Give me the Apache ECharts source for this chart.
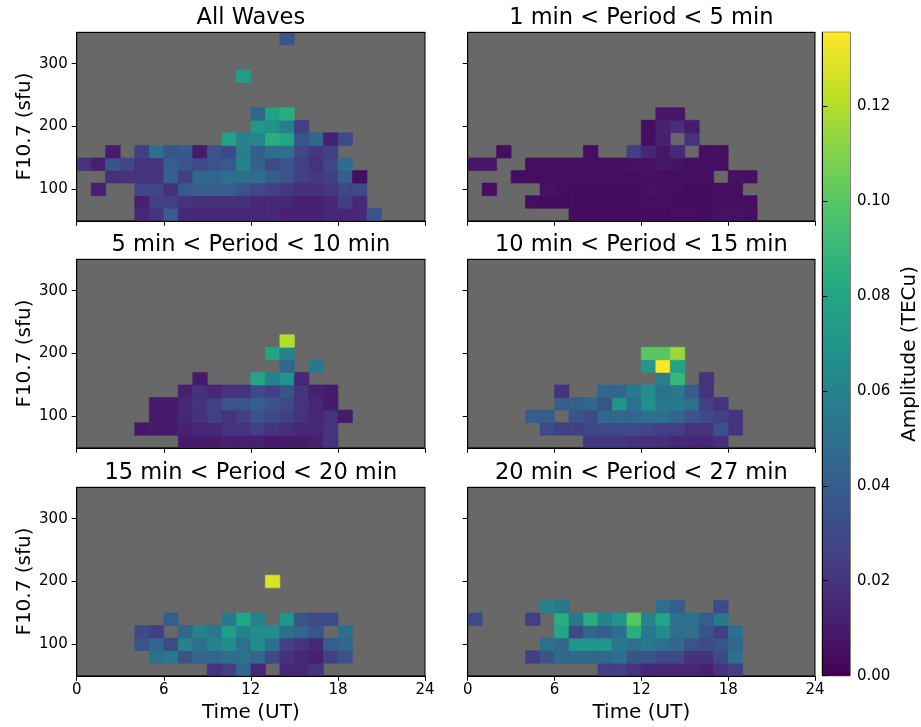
<!DOCTYPE html>
<html><head><meta charset="utf-8">
<script src="https://cdn.jsdelivr.net/npm/echarts@6/dist/echarts.min.js"></script>
<style>html,body{margin:0;padding:0;background:#fff}#c{width:921px;height:727px}</style>
</head><body><div id="c"></div><script>
// ---------- DATA ----------
// tick labels
const hourTicks = [0, 6, 12, 18, 24];
const f107Ticks = [100, 200, 300];
const ampTicks = [0, 0.02, 0.04, 0.06, 0.08, 0.10, 0.12];
const hourRange = [0, 24];
const f107Range = [50, 350];
const ampRange = [0, 0.1355];
const hourBinWidth = 1;   // UT hours
const f107BinWidth = 20;  // sfu

const panelTitles = ['All Waves', '1 min < Period < 5 min', '5 min < Period < 10 min',
  '10 min < Period < 15 min', '15 min < Period < 20 min', '20 min < Period < 27 min'];

// each row: [F10.7 bin centre (sfu), first UT hour bin, amplitude values (TECu) ...]
const allWaves = [
  [60, 4, .015,.02,.04,.015,.015,.015,.015,.015,.015,.015,.012,.012,.012,.015,.015,.015,.035],
  [80, 4, .012,.025,.025,.02,.018,.018,.018,.018,.015,.015,.015,.012,.012,.015,.025,.015],
  [100, 1, .012],
  [100, 4, .028,.028,.018,.038,.04,.04,.04,.035,.03,.025,.022,.018,.018,.022,.028,.03],
  [120, 2, .018,.02,.02,.02,.042,.025,.045,.045,.05,.05,.048,.04,.035,.025,.022,.025,.04,.005],
  [140, 0, .02,.012,.035,.028,.02,.02,.04,.035,.03,.035,.038,.06,.042,.03,.035,.025,.02,.028,.048],
  [160, 2, .01],
  [160, 4, .025,.05,.035,.038,.01,.035,.03,.058,.04,.048,.05,.028,.022,.025],
  [180, 10, .078,.06,.062,.085,.08,.035,.045,.012,.03],
  [200, 12, .072,.068,.058,.025],
  [220, 12, .045,.078,.085],
  [280, 11, .075],
  [340, 14, .035]
];
const period1to5 = [
  [60, 7, .004,.004,.004,.004,.004,.004,.004,.005,.005,.004,.006,.006,.005],
  [80, 4, .005,.004,.004,.004,.004,.004,.004,.004,.005,.005,.004,.004,.004,.005,.005,.005],
  [100, 1, .005],
  [100, 5, .006,.005,.004,.004,.004,.004,.004,.006,.005,.005,.004,.004,.005,.005],
  [120, 3, .005,.005,.005,.005,.005,.005,.005,.005,.005,.006,.005,.005,.005,.005,null,.006,.006],
  [140, 0, .008,.008],
  [140, 4, .005,.005,.005,.005,.005,.005,.005,.006,.006,.008,.007,.005,.005,.005],
  [160, 2, .005],
  [160, 8, .005],
  [160, 11, .025,.015,.008,.015,null,.005,.005],
  [180, 12, .005,.012,null,.02],
  [200, 12, .005,.012,.018,.01],
  [220, 13, .008,.008]
];
const period5to10 = [
  [60, 7, .01,.01,.01,.012,.012,.012,.01,.01,.01,.012,.02],
  [80, 4, .008,.01,.01,.012,.015,.015,.02,.02,.025,.02,.018,.015,.015,.02],
  [100, 5, .01,.01,.015,.02,.025,.02,.025,.035,.03,.025,.02,.015,.02,.01],
  [120, 5, .01,.01,.015,.02,.025,.035,.035,.04,.035,.03,.02,.015,.01],
  [140, 7, .012,.02,.015,.02,.02,.03,.025,.035,.02,.012,.01],
  [160, 8, .01],
  [160, 12, .08,.06,.07,.015],
  [180, 14, .045,null,.055],
  [200, 13, .08,.06],
  [220, 14, .12]
];
const period10to15 = [
  [60, 8, .022,.022,.022,.02,.018,.018,.015,.015,.015,.018],
  [80, 5, .03,.025,.025,.028,.03,.03,.03,.028,.025,.025,.02,.02,.035,.02],
  [100, 4, .04,.04,null,.035,.03,.045,.045,.045,.05,.05,.045,.035,.03,.025,.02],
  [120, 6, .04,.04,.045,.035,.07,.05,.068,.055,.055,.05,.025,.02],
  [140, 6, .02],
  [140, 9, .045,.045,.055,.065,.05,.055,.04,.02],
  [160, 13, .058,.09,null,.02],
  [180, 12, .072,.135,.078],
  [200, 12, .1,.1,.115]
];
const period15to20 = [
  [60, 9, .02,.025,.045,.015,null,.015,.015,.02],
  [80, 5, .05,.055,.035,.045,.045,.05,.05,.045,.03,.02,.015,.012,.025,.035],
  [100, 4, .035,.045,.03,.06,.05,.06,.065,.05,.065,.05,.025,.02,.015,.04,.045],
  [120, 4, .03,.025,null,.045,.06,.055,.075,.06,.065,.065,.05,.045,.035,null,.05],
  [140, 6, .04],
  [140, 10, .055,.08,.06,null,.07,.035,.03,.03],
  [200, 13, .128]
];
const period20to27 = [
  [60, 9, .025,.025,.02,.015,.015,.015,.015,.012,.02,.025],
  [80, 4, .025,.035,.045,.045,.045,.045,.05,.035,.035,.03,.03,.02,.02,.03,.05],
  [100, 5, .05,.045,.07,.07,.07,.055,.05,.055,.05,.045,.035,.03,.035,.045],
  [120, 6, .08,.03,.045,.04,.05,.085,.055,.065,.05,.05,.035,.025,.05],
  [140, 0, .03],
  [140, 4, .025,null,.085,.055,.085,.06,.07,.1,.06,.08,.05,.05,.04,.055],
  [160, 5, .06,.055],
  [160, 13, .05,.04],
  [160, 17, .03]
];
const panelData = [allWaves, period1to5, period5to10, period10to15, period15to20, period20to27];

const viridis = ['#440154','#482475','#414487','#355f8d','#2a788e','#21918c','#22a884','#44bf70','#7ad151','#bddf26','#fde725'];

// ---------- LAYOUT ----------
const FONT = 'DejaVu Sans';
const colLeft = [76.7, 467.7];
const colWidth = [348.3, 347.3];
const rowTop = [32.3, 259.3, 487.3];
const rowHeight = 188.5;
const BG = '#686868';

function toCells(rows) {
  const out = [];
  rows.forEach(r => {
    const f = r[0], h0 = r[1];
    for (let i = 2; i < r.length; i++) {
      if (r[i] == null) continue;
      out.push([h0 + (i - 2) + hourBinWidth / 2, f, r[i]]);
    }
  });
  return out;
}

function renderCell(params, api) {
  const h = api.value(0), f = api.value(1);
  const p0 = api.coord([h - hourBinWidth / 2, f + f107BinWidth / 2]);
  const p1 = api.coord([h + hourBinWidth / 2, f - f107BinWidth / 2]);
  const c = api.visual('color');
  return { type: 'rect',
    shape: { x: p0[0], y: p0[1], width: p1[0] - p0[0], height: p1[1] - p0[1] },
    style: { fill: c, stroke: c, lineWidth: 0.6 } };
}

const grid = [], xAxis = [], yAxis = [], series = [], graphic = [];
const lineStyle = { color: '#000', width: 1 };
const tickLabel = { color: '#000', fontSize: 15, fontFamily: FONT };

for (let i = 0; i < 6; i++) {
  const r = Math.floor(i / 2), c = i % 2;
  grid.push({ left: colLeft[c], top: rowTop[r], width: colWidth[c], height: rowHeight,
    show: true, backgroundColor: BG, borderColor: '#000', borderWidth: 1 });
  const bottom = r === 2;
  xAxis.push({ type: 'value', gridIndex: i, min: hourRange[0], max: hourRange[1], z: 10,
    axisLine: { show: true, onZero: false, lineStyle },
    axisTick: { show: true, length: 5, lineStyle, customValues: hourTicks },
    axisLabel: { show: bottom, margin: 7, ...tickLabel, customValues: hourTicks },
    splitLine: { show: false },
    name: bottom ? 'Time (UT)' : '', nameLocation: 'middle', nameGap: 27,
    nameTextStyle: { fontSize: 20, color: '#000', fontFamily: FONT } });
  yAxis.push({ type: 'value', gridIndex: i, min: f107Range[0], max: f107Range[1], z: 10,
    axisLine: { show: true, onZero: false, lineStyle },
    axisTick: { show: true, length: 5, lineStyle, customValues: f107Ticks },
    axisLabel: { show: c === 0, margin: 9, ...tickLabel, customValues: f107Ticks },
    splitLine: { show: false },
    name: c === 0 ? 'F10.7 (sfu)' : '', nameLocation: 'middle', nameGap: 42, nameRotate: 90,
    nameTextStyle: { fontSize: 20, color: '#000', fontFamily: FONT } });
  series.push({ type: 'custom', xAxisIndex: i, yAxisIndex: i, clip: true,
    data: toCells(panelData[i]), encode: { x: 0, y: 1 }, renderItem: renderCell, z: 2 });
  graphic.push({ type: 'text', x: colLeft[c] + colWidth[c] / 2, y: rowTop[r] - 14,
    style: { text: panelTitles[i], fontSize: 22.5, fontFamily: FONT, fill: '#000',
      textAlign: 'center', textVerticalAlign: 'middle' } });
}
// top frame lines
for (let i = 0; i < 6; i++) {
  xAxis.push({ type: 'value', gridIndex: i, position: 'top', min: hourRange[0], max: hourRange[1], z: 10,
    axisLine: { show: true, onZero: false, lineStyle }, axisTick: { show: false },
    axisLabel: { show: false }, splitLine: { show: false } });
}
// colorbar
grid.push({ left: 822.3, top: 32.3, width: 28.7, height: 643.4, show: true,
  backgroundColor: 'transparent', borderColor: '#000', borderWidth: 1 });
xAxis.push({ type: 'value', gridIndex: 6, min: 0, max: 1, show: false });
const cbY = yAxis.length;
yAxis.push({ type: 'value', gridIndex: 6, position: 'right', min: ampRange[0], max: ampRange[1], z: 10,
  axisLine: { show: true, lineStyle },
  axisTick: { show: true, length: 5, lineStyle, customValues: ampTicks },
  axisLabel: { show: true, margin: 7, ...tickLabel, customValues: ampTicks, formatter: v => v.toFixed(2) },
  splitLine: { show: false },
  name: 'Amplitude (TECu)', nameLocation: 'middle', nameGap: 50, nameRotate: 90,
  nameTextStyle: { fontSize: 20, color: '#000', fontFamily: FONT } });
series.push({ type: 'custom', xAxisIndex: 12, yAxisIndex: cbY, silent: true,
  data: [[0, ampRange[0], 1, ampRange[1]]],
  renderItem: (params, api) => {
    const p0 = api.coord([api.value(0), api.value(3)]);
    const p1 = api.coord([api.value(2), api.value(1)]);
    return { type: 'rect', shape: { x: p0[0], y: p0[1], width: p1[0] - p0[0], height: p1[1] - p0[1] },
      style: { fill: { type: 'linear', x: 0, y: 1, x2: 0, y2: 0,
        colorStops: viridis.map((col, k) => ({ offset: k / (viridis.length - 1), color: col })) } } };
  } });

const chart = echarts.init(document.getElementById('c'), null, { renderer: 'canvas' });
chart.setOption({
  animation: false,
  backgroundColor: '#fff',
  textStyle: { fontFamily: FONT },
  grid, xAxis, yAxis, series, graphic,
  visualMap: { type: 'continuous', show: false, min: ampRange[0], max: ampRange[1],
    dimension: 2, seriesIndex: [0, 1, 2, 3, 4, 5], inRange: { color: viridis } }
});
</script></body></html>
